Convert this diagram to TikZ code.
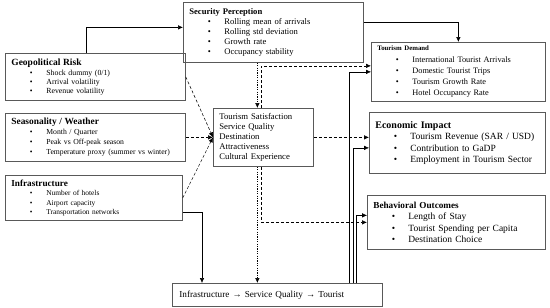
\documentclass[tikz,border=0pt]{standalone}
\usepackage{fontspec}
\setmainfont{Liberation Serif}
\usepackage{tikz}
\usetikzlibrary{arrows.meta}

\newcommand{\bitem}[1]{\hspace*{18.5pt}\makebox[16.5pt][l]{\textbullet}#1}
\newcommand{\fs}[2]{\fontsize{#1}{#2}\selectfont}

\begin{document}
\begin{tikzpicture}[x=1pt, y=-1pt, every node/.style={font=\fs{8.6}{10}}]
        \tikzstyle{box} = [rectangle, draw=black!65, line width=0.75pt, anchor=north west,
            align=left, inner xsep=6pt, inner ysep=2pt]
        \tikzstyle{arrow} = [-{Latex[length=5pt,width=4.5pt]}, line width=0.55pt]
        \tikzstyle{thinarrow} = [arrow, line width=0.4pt]
        \tikzstyle{dasharrow} = [arrow, dash pattern=on 3pt off 2pt]
        \tikzstyle{dotarrow} = [arrow, dash pattern=on 1.2pt off 1.2pt]

        \useasboundingbox (0,0) rectangle (550,308);

        \node (sp) [box, text width=168pt, minimum height=60pt] at (183,2)
            {\textbf{Security Perception}\\ \bitem{Rolling mean of arrivals}\\
             \bitem{Rolling std deviation}\\ \bitem{Growth rate}\\ \bitem{Occupancy stability}};
        \node (geo) [box, text width=168pt, minimum height=47pt, font=\fs{7.8}{9}] at (5,53)
            {{\fs{9.5}{9}\bfseries Geopolitical Risk}\\[1pt] \bitem{Shock dummy (0/1)}\\
             \bitem{Arrival volatility}\\ \bitem{Revenue volatility}};
        \node (sea) [box, text width=168pt, minimum height=48pt, font=\fs{7.7}{10}] at (5,113)
            {{\fs{9.4}{10}\bfseries Seasonality / Weather}\\ \bitem{Month / Quarter}\\
             \bitem{Peak vs Off-peak season}\\ \bitem{Temperature proxy (summer vs winter)}};
        \node (infra) [box, text width=165pt, minimum height=45pt, font=\fs{7.4}{9.5}] at (5,175)
            {{\fs{9.2}{9.5}\bfseries Infrastructure}\\ \bitem{Number of hotels}\\
             \bitem{Airport capacity}\\ \bitem{Transportation networks}};
        \node (ts) [box, text width=88pt, minimum height=58pt, font=\fs{8.7}{10}] at (213,108)
            {Tourism Satisfaction\\ Service Quality\\ Destination\\ Attractiveness\\ Cultural Experience};
        \node (td) [box, text width=162pt, minimum height=59pt, font=\fs{8.3}{11}] at (371,42)
            {{\fs{6.8}{11}\bfseries Tourism Demand}\\[1pt] \bitem{International Tourist Arrivals}\\
             \bitem{Domestic Tourist Trips}\\ \bitem{Tourism Growth Rate}\\ \bitem{Hotel Occupancy Rate}};
        \node (ei) [box, text width=164pt, minimum height=61pt, font=\fs{9.5}{11.5}] at (369,112)
            {{\fs{10}{11.5}\bfseries Economic Impact}\\ \bitem{Tourism Revenue (SAR / USD)}\\
             \bitem{Contribution to GaDP}\\ \bitem{Employment in Tourism Sector}};
        \node (bo) [box, text width=166pt, minimum height=54pt, font=\fs{9.5}{11.5}] at (367,195)
            {{\fs{9.2}{11.5}\bfseries Behavioral Outcomes}\\ \bitem{Length of Stay}\\
             \bitem{Tourist Spending per Capita}\\ \bitem{Destination Choice}};
        \node (bot) [box, text width=196pt, minimum height=23pt, inner xsep=7pt, font=\fs{9.2}{11}] at (172,283)
            {Infrastructure → Service Quality → Tourist};

        % solid links
        \draw [arrow] ([xshift=-9pt]geo.north) |- ([yshift=5pt]sp.west);
        \draw [arrow] ([yshift=10pt]sp.east) -| (td.north);
        \draw [arrow] ([yshift=-14pt]infra.east) -| ([xshift=30pt]bot.north west);
        \draw [thinarrow] ([xshift=-34pt]bot.north east) |- (td.west);
        \draw [thinarrow] ([xshift=-30pt]bot.north east) |- ([yshift=-5pt]ei.west);
        \draw [thinarrow] ([xshift=-27pt]bot.north east) |- ([yshift=7pt]bo.west);

        % dashed links
        \draw [dasharrow] (geo.east) -- (ts.west);
        \draw [dasharrow] (sea.east) -- (ts.west);
        \draw [dasharrow] (infra.east) -- (ts.west);
        \draw [dotarrow] ([xshift=-6pt]ts.north |- sp.south) -- ([xshift=-6pt]ts.north);
        \draw [dasharrow] ([xshift=-2pt]ts.north) |- ([yshift=6pt]td.west);
        \draw [dasharrow] (ts.east) -- (ts.east -| ei.west);
        \draw [dasharrow] ([xshift=-2pt]ts.south) |- (bo.west);
        \draw [dotarrow] ([xshift=-6pt]ts.south) -- ([xshift=-6pt]ts.south |- bot.north);
    \end{tikzpicture}
\end{document}
